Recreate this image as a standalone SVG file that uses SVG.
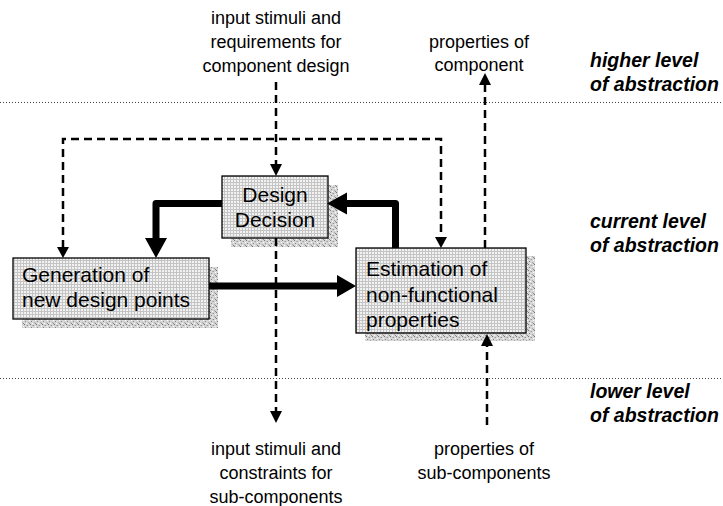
<svg xmlns="http://www.w3.org/2000/svg" width="723" height="506" viewBox="0 0 723 506">
<defs>
<pattern id="fillpat" width="3" height="3" patternUnits="userSpaceOnUse">
<rect width="3" height="3" fill="#c4c4c4"/>
<rect x="0" y="0" width="2" height="2" fill="#f2f2f2"/>
</pattern>
<pattern id="shadowpat" width="6" height="6" patternUnits="userSpaceOnUse">
<rect width="6" height="6" fill="#d6d6d6"/>
<rect x="0" y="0" width="1" height="1" fill="#777"/>
<rect x="3" y="1" width="1" height="1" fill="#999"/>
<rect x="1" y="3" width="1" height="1" fill="#888"/>
<rect x="4" y="4" width="1" height="1" fill="#aaa"/>
<rect x="5" y="2" width="1" height="1" fill="#fff"/>
<rect x="2" y="5" width="1" height="1" fill="#fff"/>
<rect x="2" y="1" width="1" height="1" fill="#bbb"/>
<rect x="5" y="5" width="1" height="1" fill="#888"/>
</pattern>
</defs>
<style>
.lbl{font-family:"Liberation Sans",Arial,sans-serif;font-size:18px;fill:#000;text-anchor:middle}
.box{font-family:"Liberation Sans",Arial,sans-serif;font-size:21px;fill:#000}
.lvl{font-family:"Liberation Sans",Arial,sans-serif;font-size:19.5px;font-weight:bold;font-style:italic;fill:#000}
.dash{fill:none;stroke:#000;stroke-width:2.5;stroke-dasharray:8 5}
.thick{fill:none;stroke:#000;stroke-width:7;stroke-linejoin:round}
.dot{stroke:#444;stroke-width:1;stroke-dasharray:1 2}
.nb{fill:url(#fillpat);stroke:#000;stroke-width:1.3}
.sh{fill:url(#shadowpat)}
.head{fill:#000}
</style>

<g id="levels">
<line class="dot" x1="0" y1="102.5" x2="723" y2="102.5"/>
<line class="dot" x1="0" y1="378.5" x2="723" y2="378.5"/>
<text class="lvl" x="590" y="67">higher level</text>
<text class="lvl" x="590" y="91">of abstraction</text>
<text class="lvl" x="590" y="228">current level</text>
<text class="lvl" x="590" y="252">of abstraction</text>
<text class="lvl" x="590" y="398">lower level</text>
<text class="lvl" x="590" y="422">of abstraction</text>
</g>

<g id="labels">
<text class="lbl" x="276" y="24">input stimuli and</text>
<text class="lbl" x="276" y="48">requirements for</text>
<text class="lbl" x="276" y="72">component design</text>
<text class="lbl" x="479" y="48">properties of</text>
<text class="lbl" x="479" y="71">component</text>
<text class="lbl" x="276" y="455">input stimuli and</text>
<text class="lbl" x="276" y="479">constraints for</text>
<text class="lbl" x="276" y="503">sub-components</text>
<text class="lbl" x="484" y="455">properties of</text>
<text class="lbl" x="484" y="479">sub-components</text>
</g>

<g id="design-decision">
<rect class="sh" x="231" y="185" width="107" height="62"/>
<rect class="nb" x="222" y="176" width="106" height="62"/>
<text class="box" x="275" y="202" text-anchor="middle">Design</text>
<text class="box" x="275" y="227" text-anchor="middle">Decision</text>
</g>

<g id="generation">
<rect class="sh" x="22" y="267" width="196" height="61"/>
<rect class="nb" x="13" y="258" width="196" height="61"/>
<text class="box" x="22" y="282">Generation of</text>
<text class="box" x="22" y="307">new design points</text>
</g>

<g id="estimation">
<rect class="sh" x="365" y="256" width="170" height="85"/>
<rect class="nb" x="356" y="248" width="170" height="85"/>
<text class="box" x="366" y="276">Estimation of</text>
<text class="box" x="366" y="302">non-functional</text>
<text class="box" x="366" y="327">properties</text>
</g>

<g id="connectors">
<path class="dash" d="M276,82 V165"/>
<path class="head" d="M270,164 L282,164 L276,176 Z"/>
<path class="dash" d="M63,248 V139 H441 V238"/>
<path class="head" d="M57,247 L69,247 L63,258 Z"/>
<path class="head" d="M435,237 L447,237 L441,248 Z"/>
<path class="dash" d="M276,238 V412"/>
<path class="head" d="M270,411 L282,411 L276,423 Z"/>
<path class="dash" d="M485,248 V84"/>
<path class="head" d="M479,85 L491,85 L485,73 Z"/>
<path class="dash" d="M487,425 V345"/>
<path class="head" d="M481,346 L493,346 L487,334 Z"/>
<path class="thick" d="M222,203.5 H156 V240"/>
<path class="head" d="M145,238 L167,238 L156,258 Z"/>
<path class="thick" d="M395.5,248 V203.5 H345"/>
<path class="head" d="M347,192.5 L347,214.5 L327,203.5 Z"/>
<path class="thick" d="M209,286 H339"/>
<path class="head" d="M337,275 L337,297 L356,286 Z"/>
</g>
</svg>
